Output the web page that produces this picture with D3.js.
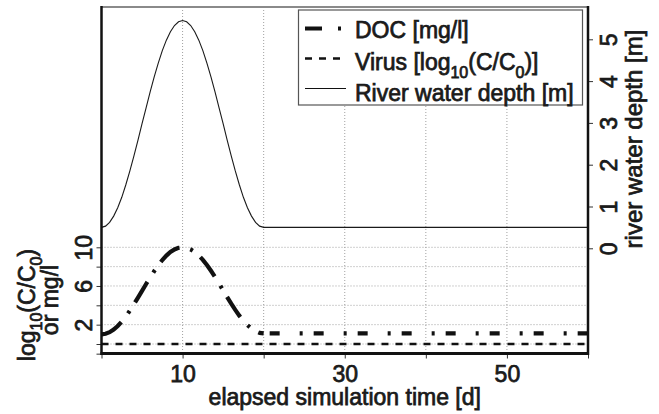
<!DOCTYPE html>
<html><head><meta charset="utf-8">
<script src="https://cdn.jsdelivr.net/npm/d3@7"></script>
<style>
body{margin:0;background:#fff}
svg{display:block}
text{font-family:"Liberation Sans",Arial,Helvetica,sans-serif;fill:#1a1a1a;stroke:#1a1a1a;stroke-width:0.75px}
</style>
</head><body>
<svg id="c" width="659" height="414"></svg>
<script>
// ---- data ----
const time = [0,0.5,1,1.5,2,2.5,3,3.5,4,4.5,5,5.5,6,6.5,7,7.5,8,8.5,9,9.5,10,
              10.5,11,11.5,12,12.5,13,13.5,14,14.5,15,15.5,16,16.5,17,17.5,18,18.5,19,19.5,20,60];
const depth = [0.50,0.53,0.62,0.77,0.97,1.22,1.52,1.85,2.21,2.59,2.98,3.36,3.74,4.10,4.43,4.73,4.98,5.18,5.33,5.42,5.45,
               5.42,5.33,5.18,4.98,4.73,4.43,4.10,3.74,3.36,2.98,2.59,2.21,1.85,1.52,1.22,0.97,0.77,0.62,0.53,0.50,0.50];
const doc = [1.00,1.06,1.22,1.49,1.86,2.32,2.85,3.46,4.11,4.80,5.50,6.20,6.89,7.54,8.15,8.68,9.14,9.51,9.78,9.94,10.00,
             9.94,9.78,9.52,9.15,8.70,8.17,7.57,6.93,6.25,5.55,4.85,4.17,3.53,2.93,2.40,1.95,1.59,1.32,1.15,1.10,1.10];
const virusTime = [0,60];
const virus = [0,0];

const xTicks = [0,10,20,30,40,50,60];
const xLabels = [10,30,50];
const xGrid = [10,20,30,40,50];
const leftTicks = [-1,0,2,4,6,8,10];
const leftLabels = [2,6,10];
const leftGrid = [0,2,4,6,8,10];
const rightTicks = [0,1,2,3,4,5];

// ---- layout ----
const L = 101.5, R = 588, T = 7, B = 353.5;
const svg = d3.select("#c");

const x = d3.scaleLinear().domain([0,60]).range([L,R]);
const yL = d3.scaleLinear().domain([0,10]).range([344,247.3]);
const yR = d3.scaleLinear().domain([0,5]).range([248.3,39.3]);

// grid
const g = svg.append("g").attr("stroke","#a0a0a0").attr("stroke-width",1).attr("stroke-dasharray","1,2");
g.selectAll(".vg").data(xGrid).join("line")
  .attr("x1",d=>x(d)).attr("x2",d=>x(d)).attr("y1",T).attr("y2",B);
g.selectAll(".hg").data(leftGrid).join("line")
  .attr("x1",L).attr("x2",R).attr("y1",d=>yL(d)).attr("y2",d=>yL(d));

// series
const series = (ts, vs) => ts.map((t,i)=>({t, v:vs[i]}));
const lineL = d3.line().x(d=>x(d.t)).y(d=>yL(d.v));
const lineR = d3.line().x(d=>x(d.t)).y(d=>yR(d.v));

svg.append("path").datum(series(time, depth)).attr("d", lineR)
  .attr("fill","none").attr("stroke","#1a1a1a").attr("stroke-width",1.1);
svg.append("path").datum(series(virusTime, virus)).attr("d", lineL)
  .attr("fill","none").attr("stroke","#111").attr("stroke-width",2.6).attr("stroke-dasharray","7,7");
const docPts = series(time, doc);
svg.append("path").datum(docPts.filter(d=>d.t<=20)).attr("d", lineL)
  .attr("fill","none").attr("stroke","#111").attr("stroke-width",4.2).attr("stroke-dasharray","24,11,3,10");
svg.append("path").datum(docPts.filter(d=>d.t>=20)).attr("d", lineL)
  .attr("fill","none").attr("stroke","#111").attr("stroke-width",4.2).attr("stroke-dasharray","10,20,3,11")
  .attr("stroke-dashoffset",-6);

// axes
const styleAxis = sel => {
  sel.select(".domain").remove();
  sel.selectAll(".tick line").attr("stroke","#333").attr("stroke-width",1);
  sel.selectAll(".tick text").style("font-family",'"Liberation Sans",Arial,sans-serif').attr("fill","#1a1a1a");
};
const ax = svg.append("g").attr("transform",`translate(0,${B})`)
  .call(d3.axisBottom(x).tickValues(xTicks).tickSize(5).tickFormat(d=>xLabels.includes(d)?d:""));
styleAxis(ax);
ax.selectAll(".tick text").attr("y",28).attr("dy",0).style("font-size","23px");

const ay = svg.append("g").attr("transform",`translate(${L},0)`)
  .call(d3.axisLeft(yL).tickValues(leftTicks).tickSize(5).tickFormat(d=>leftLabels.includes(d)?d:""));
styleAxis(ay);
ay.selectAll(".tick text").attr("x",0).attr("dy",0).attr("y",-10)
  .attr("text-anchor","middle").attr("transform","rotate(-90)").style("font-size","23px");

const ar = svg.append("g").attr("transform",`translate(${R},0)`)
  .call(d3.axisRight(yR).tickValues(rightTicks).tickSize(5).tickFormat(d3.format("d")));
styleAxis(ar);
ar.selectAll(".tick text").attr("x",0).attr("dy",0).attr("y",29)
  .attr("text-anchor","middle").attr("transform","rotate(-90)").style("font-size","23px");

// frame
svg.append("line").attr("x1",L).attr("x2",R).attr("y1",T).attr("y2",T).attr("stroke","#8a8a8a").attr("stroke-width",2);
svg.append("line").attr("x1",L).attr("x2",L).attr("y1",T-1).attr("y2",B+1.5).attr("stroke","#111").attr("stroke-width",2.5);
svg.append("line").attr("x1",R).attr("x2",R).attr("y1",T-1).attr("y2",B+1.5).attr("stroke","#111").attr("stroke-width",2.5);
svg.append("line").attr("x1",L-1).attr("x2",R+1).attr("y1",B).attr("y2",B).attr("stroke","#111").attr("stroke-width",3);

// axis titles
svg.append("text").attr("x",(L+R)/2).attr("y",405).attr("text-anchor","middle")
  .style("font-size","23px").text("elapsed simulation time [d]");

const t1 = svg.append("text").attr("transform","translate(35,305) rotate(-90)")
  .attr("text-anchor","middle").style("font-size","23px");
t1.append("tspan").text("log");
t1.append("tspan").attr("dy",7).style("font-size","16px").text("10");
t1.append("tspan").attr("dy",-7).text("(C/C");
t1.append("tspan").attr("dy",7).style("font-size","16px").text("0");
t1.append("tspan").attr("dy",-7).text(")");

svg.append("text").attr("transform","translate(58,300) rotate(-90)")
  .attr("text-anchor","middle").style("font-size","23px").text("or mg/l");

svg.append("text").attr("transform","translate(642,139) rotate(-90)")
  .attr("text-anchor","middle").style("font-size","24px").text("river water depth [m]");

// legend
const lg = svg.append("g");
lg.append("rect").attr("x",298.5).attr("y",10).attr("width",284).attr("height",95)
  .attr("fill","#fff").attr("stroke","#555").attr("stroke-width",1.2);
const rows = [
  {sy:28.5, ty:38, dash:"17,16,3,100", w:4.2},
  {sy:58.5, ty:69.5, dash:"7,7", w:2.6},
  {sy:88.5, ty:101, dash:null, w:1.1}
];
rows.forEach(r=>{
  const l = lg.append("line").attr("x1",305).attr("x2",346).attr("y1",r.sy).attr("y2",r.sy)
    .attr("stroke","#111").attr("stroke-width",r.w);
  if (r.dash) l.attr("stroke-dasharray",r.dash);
});
lg.append("text").attr("x",355).attr("y",rows[0].ty).style("font-size","23px").text("DOC [mg/l]");
const vt = lg.append("text").attr("x",355).attr("y",rows[1].ty).style("font-size","23px");
vt.append("tspan").text("Virus [log");
vt.append("tspan").attr("dy",8).style("font-size","16px").text("10");
vt.append("tspan").attr("dy",-8).text("(C/C");
vt.append("tspan").attr("dy",8).style("font-size","16px").text("0");
vt.append("tspan").attr("dy",-8).text(")]");
lg.append("text").attr("x",355).attr("y",rows[2].ty).style("font-size","23px").text("River water depth [m]");
</script>
</body></html>
